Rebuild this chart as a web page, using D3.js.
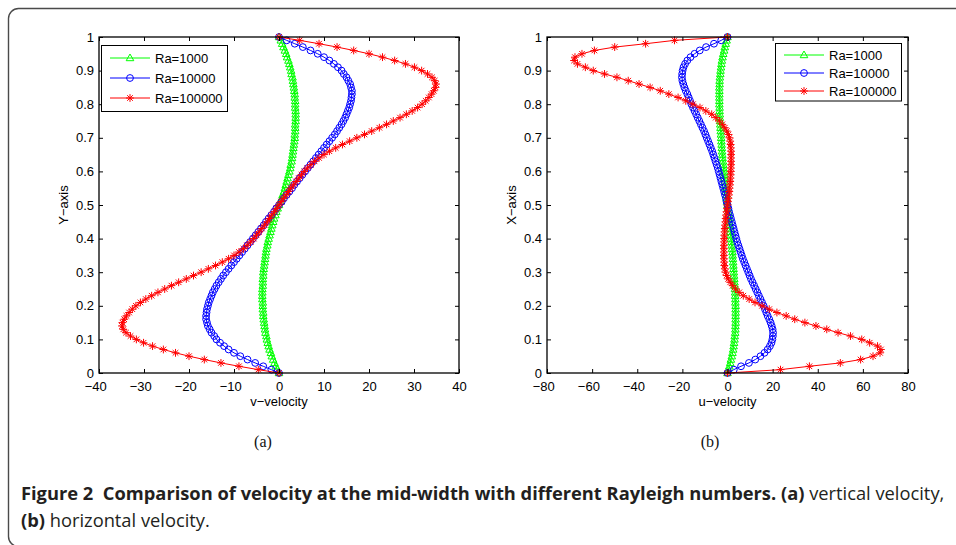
<!DOCTYPE html>
<html>
<head>
<meta charset="utf-8">
<script src="https://cdn.jsdelivr.net/npm/d3@7"></script>
<style>
  html, body { margin: 0; padding: 0; background: #fff; }
  svg { display: block; }
  .tick text { font-family: "Liberation Sans", Arial, sans-serif; font-size: 13px; fill: #000; }
  .lbl { font-family: "Liberation Sans", Arial, sans-serif; font-size: 13px; fill: #000; }
</style>
</head>
<body>
<div id="chart"></div>
<script>
// position along the mid-line (0..1), one value per grid point
const yGrid = d3.range(101).map(i => i / 100);
const seriesNames = ["Ra=1000", "Ra=10000", "Ra=100000"];

// (a) vertical velocity v
const vRa1000 = [0,
  -0.4,-0.7,-1.0,-1.3,-1.6,-1.8,-2.1,-2.3,-2.5,-2.7,
  -2.8,-3.0,-3.1,-3.2,-3.3,-3.4,-3.5,-3.5,-3.6,-3.6,
  -3.6,-3.7,-3.7,-3.7,-3.7,-3.6,-3.6,-3.6,-3.5,-3.5,
  -3.4,-3.3,-3.2,-3.1,-3.0,-2.9,-2.8,-2.6,-2.5,-2.3,
  -2.1,-1.9,-1.7,-1.5,-1.3,-1.1,-0.8,-0.6,-0.3,0,
  0.3,0.6,0.8,1.1,1.3,1.5,1.7,1.9,2.1,2.3,
  2.5,2.6,2.8,2.9,3.0,3.1,3.2,3.3,3.4,3.5,
  3.5,3.6,3.6,3.6,3.7,3.7,3.7,3.7,3.6,3.6,
  3.6,3.5,3.5,3.4,3.3,3.2,3.1,3.0,2.8,2.7,
  2.5,2.3,2.1,1.8,1.6,1.3,1.0,0.7,0.4,0];
const vRa10000 = [0,
  -1.7,-3.5,-5.3,-7.0,-8.6,-10.0,-11.2,-12.2,-13.1,-13.9,
  -14.4,-15.0,-15.4,-15.8,-16.0,-16.2,-16.2,-16.1,-16.0,-15.8,
  -15.6,-15.3,-15.0,-14.7,-14.3,-13.9,-13.4,-12.9,-12.4,-11.8,
  -11.2,-10.6,-10.0,-9.4,-8.8,-8.2,-7.6,-7.0,-6.4,-5.8,
  -5.2,-4.6,-4.0,-3.4,-2.9,-2.3,-1.7,-1.1,-0.6,0,
  0.6,1.1,1.7,2.3,2.9,3.4,4.0,4.6,5.2,5.8,
  6.4,7.0,7.6,8.2,8.8,9.4,10.0,10.6,11.2,11.8,
  12.4,12.9,13.4,13.9,14.3,14.7,15.0,15.3,15.6,15.8,
  16.0,16.1,16.2,16.2,16.0,15.8,15.4,15.0,14.4,13.9,
  13.1,12.2,11.2,10.0,8.6,7.0,5.3,3.5,1.7,0];
const vRa100000 = [0,
  -4.6,-8.9,-12.9,-16.6,-20.0,-23.0,-25.7,-28.1,-30.1,-31.7,
  -33.0,-34.0,-34.6,-34.9,-34.8,-34.4,-33.9,-33.3,-32.6,-31.8,
  -30.8,-29.6,-28.3,-26.9,-25.4,-23.9,-22.3,-20.6,-19.0,-17.3,
  -15.7,-14.1,-12.6,-11.2,-10.0,-8.9,-7.9,-7.1,-6.3,-5.6,
  -5.0,-4.4,-3.8,-3.2,-2.6,-2.1,-1.6,-1.0,-0.5,0,
  0.5,1.0,1.6,2.1,2.6,3.2,3.8,4.4,5.0,5.6,
  6.3,7.1,7.9,8.9,10.0,11.2,12.6,14.1,15.7,17.3,
  19.0,20.6,22.3,23.9,25.4,26.9,28.3,29.6,30.8,31.8,
  32.6,33.3,33.9,34.4,34.8,34.9,34.6,34.0,33.0,31.7,
  30.1,28.1,25.7,23.0,20.0,16.6,12.9,8.9,4.6,0];

// (b) horizontal velocity u
const uRa1000 = [0,
  0.4,0.8,1.2,1.5,1.9,2.2,2.5,2.7,2.9,3.1,
  3.2,3.4,3.5,3.5,3.6,3.6,3.6,3.6,3.6,3.6,
  3.5,3.5,3.4,3.4,3.3,3.2,3.1,3.0,2.9,2.8,
  2.7,2.6,2.5,2.4,2.3,2.2,2.0,1.9,1.8,1.6,
  1.5,1.3,1.2,1.0,0.9,0.7,0.5,0.4,0.2,0,
  -0.2,-0.4,-0.5,-0.7,-0.9,-1.0,-1.2,-1.3,-1.5,-1.6,
  -1.8,-1.9,-2.0,-2.2,-2.3,-2.4,-2.5,-2.6,-2.7,-2.8,
  -2.9,-3.0,-3.1,-3.2,-3.3,-3.4,-3.4,-3.5,-3.5,-3.6,
  -3.6,-3.6,-3.6,-3.6,-3.6,-3.5,-3.5,-3.4,-3.2,-3.1,
  -2.9,-2.7,-2.5,-2.2,-1.9,-1.5,-1.2,-0.8,-0.4,0];
const uRa10000 = [0,
  2.8,6.0,9.5,12.3,14.6,16.4,17.8,18.8,19.5,19.9,
  20.1,20.2,20.0,19.6,19.1,18.5,17.8,17.2,16.6,16.0,
  15.3,14.6,13.9,13.2,12.5,11.8,11.1,10.4,9.8,9.2,
  8.6,8.0,7.4,6.8,6.3,5.8,5.3,4.8,4.3,3.9,
  3.5,3.1,2.7,2.3,1.9,1.5,1.1,0.7,0.4,0,
  -0.4,-0.7,-1.1,-1.5,-1.9,-2.3,-2.7,-3.1,-3.5,-3.9,
  -4.3,-4.8,-5.3,-5.8,-6.3,-6.8,-7.4,-8.0,-8.6,-9.2,
  -9.8,-10.4,-11.1,-11.8,-12.5,-13.2,-13.9,-14.6,-15.3,-16.0,
  -16.6,-17.2,-17.8,-18.5,-19.1,-19.6,-20.0,-20.2,-20.1,-19.9,
  -19.5,-18.8,-17.8,-16.4,-14.6,-12.3,-9.5,-6.0,-2.8,0];
const uRa100000 = [0,
  23.5,36.3,50.0,59.0,64.5,67.6,68.0,66.5,63.0,59.5,
  54.5,49.0,44.0,39.2,34.3,29.8,26.0,21.9,18.5,15.3,
  12.2,9.6,7.0,5.2,3.6,2.3,1.2,0.3,-0.4,-0.9,
  -1.2,-1.4,-1.5,-1.6,-1.6,-1.6,-1.6,-1.6,-1.5,-1.5,
  -1.4,-1.3,-1.2,-1.1,-0.9,-0.8,-0.6,-0.4,-0.2,0,
  0.2,0.4,0.6,0.8,0.9,1.1,1.2,1.3,1.4,1.5,
  1.5,1.6,1.6,1.6,1.6,1.6,1.5,1.4,1.2,0.9,
  0.4,-0.3,-1.2,-2.3,-3.6,-5.2,-7.0,-9.6,-12.2,-15.3,
  -18.5,-21.9,-26.0,-29.8,-34.3,-39.2,-44.0,-49.0,-54.5,-59.5,
  -63.0,-66.5,-68.0,-67.6,-64.5,-59.0,-50.0,-36.3,-23.5,0];

const vTicks = [-40, -30, -20, -10, 0, 10, 20, 30, 40];
const uTicks = [-80, -60, -40, -20, 0, 20, 40, 60, 80];
const yTicks = [0, 0.1, 0.2, 0.3, 0.4, 0.5, 0.6, 0.7, 0.8, 0.9, 1];

const colors = ["#00ff00", "#0000ff", "#ff0000"];
const markers = ["tri", "circle", "star"];

const W = 956, H = 545;
const svg = d3.select("#chart").append("svg").attr("width", W).attr("height", H);

// outer frame with rounded corner (right side runs off the page)
svg.append("rect")
  .attr("x", 8.5).attr("y", 8.5)
  .attr("width", 1000).attr("height", 538)
  .attr("rx", 10)
  .attr("fill", "none").attr("stroke", "#4a4a4a").attr("stroke-width", 1.4);

const fmt = d => String(d).replace("-", "\u2212");

function drawMarker(g, type, x, y, color) {
  if (type === "circle") {
    g.append("circle").attr("cx", x).attr("cy", y).attr("r", 3.4)
      .attr("fill", "none").attr("stroke", color);
  } else if (type === "tri") {
    g.append("path")
      .attr("d", `M${x},${y - 4}L${x + 3.8},${y + 2.7}L${x - 3.8},${y + 2.7}Z`)
      .attr("fill", "none").attr("stroke", color);
  } else {
    const a = 3.9, b = 2.8;
    g.append("path")
      .attr("d", `M${x - a},${y}H${x + a}M${x},${y - a}V${y + a}` +
                 `M${x - b},${y - b}L${x + b},${y + b}M${x - b},${y + b}L${x + b},${y - b}`)
      .attr("fill", "none").attr("stroke", color);
  }
}

function drawPanel(p) {
  const x = d3.scaleLinear().domain(p.xDomain).range([p.left, p.right]);
  const y = d3.scaleLinear().domain([0, 1]).range([p.bottom, p.top]);
  const g = svg.append("g");

  // curves: green first, red on top
  p.series.forEach((vals, k) => {
    const line = d3.line().x(d => x(d)).y((d, i) => y(yGrid[i]));
    g.append("path").datum(vals)
      .attr("d", line)
      .attr("fill", "none").attr("stroke", colors[k]).attr("stroke-width", 1);
    const mg = g.append("g");
    vals.forEach((d, i) => drawMarker(mg, markers[k], x(d), y(yGrid[i]), colors[k]));
  });

  // axes, ticks inside on all four sides
  const ax = g.append("g");
  const bottomAxis = ax.append("g").attr("transform", `translate(0,${p.bottom})`)
    .call(d3.axisBottom(x).tickValues(p.xTicks).tickSizeInner(-4).tickSizeOuter(0).tickPadding(9).tickFormat(fmt));
  bottomAxis.select(".domain").remove();
  // digits sit on the tick, the minus sign hangs to the left
  bottomAxis.selectAll(".tick text").filter(d => d < 0).attr("dx", "-0.29em");
  ax.append("g").attr("transform", `translate(0,${p.top})`)
    .call(d3.axisTop(x).tickValues(p.xTicks).tickSizeInner(-4).tickSizeOuter(0).tickFormat(() => ""))
    .select(".domain").remove();
  ax.append("g").attr("transform", `translate(${p.left},0)`)
    .call(d3.axisLeft(y).tickValues(yTicks).tickSizeInner(-4).tickSizeOuter(0).tickPadding(5).tickFormat(fmt))
    .select(".domain").remove();
  ax.append("g").attr("transform", `translate(${p.right},0)`)
    .call(d3.axisRight(y).tickValues(yTicks).tickSizeInner(-4).tickSizeOuter(0).tickFormat(() => ""))
    .select(".domain").remove();
  ax.selectAll(".tick line").attr("stroke", "#000");

  g.append("rect")
    .attr("x", p.left).attr("y", p.top)
    .attr("width", p.right - p.left).attr("height", p.bottom - p.top)
    .attr("fill", "none").attr("stroke", "#000").attr("stroke-width", 1.3);

  // axis titles
  g.append("text").attr("class", "lbl")
    .attr("x", (p.left + p.right) / 2).attr("y", p.bottom + 33)
    .attr("text-anchor", "middle").text(p.xLabel);
  g.append("text").attr("class", "lbl")
    .attr("transform", `translate(${p.left - 31},${(p.top + p.bottom) / 2}) rotate(-90)`)
    .attr("text-anchor", "middle").text(p.yLabel);

  // legend
  const L = p.legend;
  g.append("rect")
    .attr("x", L.x).attr("y", L.y).attr("width", L.w).attr("height", L.h)
    .attr("fill", "#fff").attr("stroke", "#000").attr("stroke-width", 1);
  seriesNames.forEach((name, k) => {
    const ry = L.y + L.first + k * L.step;
    g.append("line")
      .attr("x1", L.x + 8.5).attr("x2", L.x + 48.5).attr("y1", ry).attr("y2", ry)
      .attr("stroke", colors[k]).attr("stroke-width", 1);
    drawMarker(g, markers[k], L.x + 28.5, ry, colors[k]);
    g.append("text").attr("class", "lbl")
      .attr("x", L.x + 53.5).attr("y", ry + 4.7).text(name);
  });

  // sub-figure tag
  svg.append("text")
    .attr("x", p.tagX).attr("y", 447)
    .attr("text-anchor", "middle")
    .attr("font-family", "'Liberation Serif', 'Times New Roman', serif")
    .attr("font-size", 16).attr("fill", "#111")
    .text(p.tag);
}

drawPanel({
  left: 99, right: 459, top: 37, bottom: 373,
  xDomain: [-40, 40], xTicks: vTicks,
  series: [vRa1000, vRa10000, vRa100000],
  xLabel: "v\u2212velocity", yLabel: "Y\u2212axis",
  legend: { x: 101.5, y: 45.5, w: 126, h: 66, first: 12.5, step: 20 },
  tag: "(a)", tagX: 263
});

drawPanel({
  left: 547, right: 908, top: 37, bottom: 373,
  xDomain: [-80, 80], xTicks: uTicks,
  series: [uRa1000, uRa10000, uRa100000],
  xLabel: "u\u2212velocity", yLabel: "X\u2212axis",
  legend: { x: 775.5, y: 43.5, w: 126, h: 57.5, first: 11.5, step: 18 },
  tag: "(b)", tagX: 710
});

// caption
const capFont = "'Open Sans', 'Noto Sans', sans-serif";
const cap1 = svg.append("text")
  .attr("font-family", capFont).attr("font-size", 18).attr("fill", "#231f20");
cap1.append("tspan").attr("font-weight", 700)
  .text("Figure 2\u00a0 Comparison of velocity at the mid-width with different Rayleigh numbers. (a)");
cap1.append("tspan").attr("font-weight", 400).text(" vertical velocity,");
const cap2 = svg.append("text")
  .attr("font-family", capFont).attr("font-size", 18).attr("fill", "#231f20");
cap2.append("tspan").attr("font-weight", 700).text("(b)");
cap2.append("tspan").attr("font-weight", 400).text(" horizontal velocity.");

const k = 924 / cap1.node().getComputedTextLength();
cap1.attr("transform", `translate(21,500) scale(${k},1)`);
cap2.attr("transform", `translate(21,527) scale(${k},1)`);
</script>
</body>
</html>
